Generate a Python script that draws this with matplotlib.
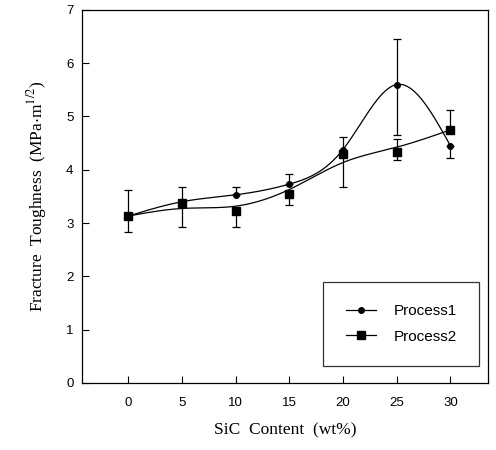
import numpy as np
import matplotlib
matplotlib.use("Agg")
import matplotlib.pyplot as plt

sic = [0, 5, 10, 15, 20, 25, 30]
process1 = [3.13, 3.40, 3.53, 3.73, 4.38, 5.60, 4.45]
process1_err_low = [0.00, 0.00, 0.00, 0.00, 0.00, 0.95, 0.23]
process1_err_up = [0.49, 0.28, 0.15, 0.19, 0.24, 0.85, 0.00]
process2 = [3.13, 3.38, 3.23, 3.55, 4.30, 4.33, 4.75]
process2_err_low = [0.30, 0.45, 0.30, 0.22, 0.62, 0.15, 0.00]
process2_err_up = [0.00, 0.00, 0.00, 0.00, 0.00, 0.25, 0.37]
series_labels = ["Process1", "Process2"]


def spline_eval(x, y, n=300):
    x = np.asarray(x, float)
    y = np.asarray(y, float)
    k = len(x)
    h = np.diff(x)
    A = np.zeros((k, k))
    b = np.zeros(k)
    A[0, 0] = A[-1, -1] = 1
    for i in range(1, k - 1):
        A[i, i - 1] = h[i - 1]
        A[i, i] = 2 * (h[i - 1] + h[i])
        A[i, i + 1] = h[i]
        b[i] = 3 * ((y[i + 1] - y[i]) / h[i] - (y[i] - y[i - 1]) / h[i - 1])
    c = np.linalg.solve(A, b)
    xs = np.linspace(x[0], x[-1], n)
    ys = np.empty_like(xs)
    for j, xv in enumerate(xs):
        i = min(np.searchsorted(x, xv, side="right") - 1, k - 2)
        dx = xv - x[i]
        bb = (y[i + 1] - y[i]) / h[i] - h[i] * (2 * c[i] + c[i + 1]) / 3
        d = (c[i + 1] - c[i]) / (3 * h[i])
        ys[j] = y[i] + bb * dx + c[i] * dx ** 2 + d * dx ** 3
    return xs, ys


def smoothing_spline(x, y, lam, n=300):
    x = np.asarray(x, float)
    y = np.asarray(y, float)
    k = len(x)
    h = np.diff(x)
    Q = np.zeros((k, k - 2))
    R = np.zeros((k - 2, k - 2))
    for j in range(1, k - 1):
        Q[j - 1, j - 1] = 1 / h[j - 1]
        Q[j, j - 1] = -1 / h[j - 1] - 1 / h[j]
        Q[j + 1, j - 1] = 1 / h[j]
        R[j - 1, j - 1] = (h[j - 1] + h[j]) / 3
        if j < k - 2:
            R[j - 1, j] = R[j, j - 1] = h[j] / 6
    K = Q @ np.linalg.solve(R, Q.T)
    W = np.diag([20.0] + [1.0] * (k - 2) + [20.0])
    g = np.linalg.solve(W + lam * K, W @ y)
    return spline_eval(x, g, n)


plt.rcParams["mathtext.fontset"] = "stix"
fig = plt.figure(figsize=(4.96, 4.5), dpi=100)
ax = fig.add_axes([0.165, 0.149, 0.819, 0.829])

curves = [spline_eval(sic, process1), smoothing_spline(sic, process2, 15.0)]
for (xs, ys), vals, lo, up, mk, ms, lab in [
    (curves[0], process1, process1_err_low, process1_err_up, "o", 4, series_labels[0]),
    (curves[1], process2, process2_err_low, process2_err_up, "s", 5.5, series_labels[1]),
]:
    ax.plot(xs, ys, color="black", lw=0.9)
    ax.errorbar(sic, vals, yerr=[lo, up], fmt="none", ecolor="black",
                elinewidth=0.9, capsize=3, capthick=0.9)
    ax.plot(sic, vals, linestyle="none", marker=mk, ms=ms, color="black")
    ax.plot([], [], color="black", lw=0.9, marker=mk, ms=ms, label=lab)

ax.set_xlim(-4.3, 33.5)
ax.set_ylim(0, 7)
ax.set_xticks(sic)
ax.set_yticks(range(0, 8))
ax.tick_params(direction="in", length=5, width=0.8, labelsize=9.5)
for lab in ax.get_xticklabels() + ax.get_yticklabels():
    lab.set_family("Liberation Sans")
ax.tick_params(axis="x", pad=10)
ax.tick_params(axis="y", pad=6)
for s in ax.spines.values():
    s.set_linewidth(0.9)

ax.set_xlabel("SiC  Content  (wt%)", family="Liberation Serif", fontsize=12.5, labelpad=10)
ax.set_ylabel(r"Fracture  Toughness  (MPa$\cdot$m$^{1/2}$)", family="Liberation Serif",
              fontsize=12.5, labelpad=12)

leg = ax.legend(loc="lower right", bbox_to_anchor=(0.978, 0.046), borderaxespad=0,
                frameon=True, fancybox=False, edgecolor="black", borderpad=1.45,
                labelspacing=0.75, handlelength=2.0, handletextpad=1.15,
                prop={"family": "Liberation Sans", "size": 11})
leg.get_frame().set_linewidth(0.9)

fig.savefig("out.png", dpi=100)
